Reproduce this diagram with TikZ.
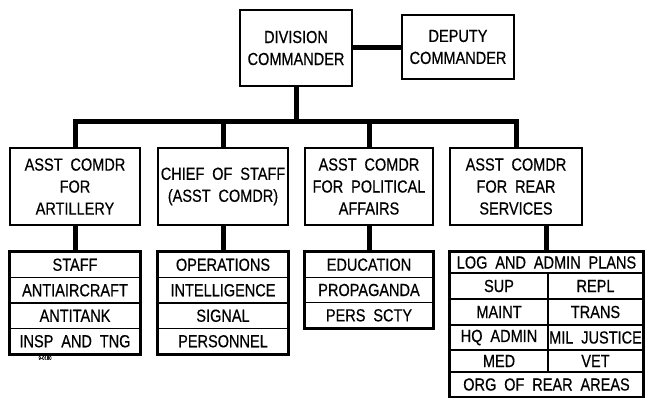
\documentclass[tikz,border=0pt]{standalone}
\usepackage{fontspec}
\setmainfont{Liberation Sans}[FakeStretch=0.83,FakeBold=0.5]
\newcommand{\mainf}{\fontsize{17.5}{22}\selectfont\spaceskip=0.45em plus 0.1em\relax}
\begin{document}
\begin{tikzpicture}[x=1pt,y=-1pt,
  box/.style={draw, line width=1.8pt, align=center, inner sep=0pt, font=\mainf},
  cell/.style={draw, line width=1.4pt, inner sep=0pt, font=\mainf},
  conn/.style={line width=5pt}]
\useasboundingbox (0,0) rectangle (645,398);
% top level
\node[box, minimum width=112pt, minimum height=76pt] (div) at (296,48) {DIVISION\\COMMANDER};
\node[box, minimum width=112pt, minimum height=64pt] (dep) at (458,47) {DEPUTY\\COMMANDER};
\draw[conn] (div.east) -- (div.east -| dep.west);
% second level
\node[box, minimum width=130pt, minimum height=77pt] (b1) at (75,186.5) {ASST COMDR\\FOR\\ARTILLERY};
\node[box, minimum width=130pt, minimum height=77pt] (b2) at (223,186.5) {CHIEF OF STAFF\\(ASST COMDR)};
\node[box, minimum width=128pt, minimum height=77pt] (b3) at (369,186.5) {ASST COMDR\\FOR POLITICAL\\AFFAIRS};
\node[box, minimum width=132pt, minimum height=77pt] (b4) at (516,186.5) {ASST COMDR\\FOR REAR\\SERVICES};
\coordinate (bar) at (0,122);
\draw[conn] (div.south) -- (div.south |- bar);
\draw[conn] (b1.north) -- (b1.north |- bar) -- (b4.north |- bar) -- (b4.north);
\draw[conn] (b2.north) -- (b2.north |- bar);
\draw[conn] (b3.north) -- (b3.north |- bar);
% list 1
\node[cell, minimum width=130pt, minimum height=25.5pt] (a1) at (75,264.75) {STAFF};
\node[cell, minimum width=130pt, minimum height=25.5pt] (a2) at (75,290.25) {ANTIAIRCRAFT};
\node[cell, minimum width=130pt, minimum height=25.5pt] (a3) at (75,315.75) {ANTITANK};
\node[cell, minimum width=130pt, minimum height=25.5pt] (a4) at (75,341.25) {INSP AND TNG};
\draw[line width=1.8pt] (a1.north west) rectangle (a4.south east);
% list 2
\node[cell, minimum width=130pt, minimum height=25.5pt] (c1) at (223,264.75) {OPERATIONS};
\node[cell, minimum width=130pt, minimum height=25.5pt] (c2) at (223,290.25) {INTELLIGENCE};
\node[cell, minimum width=130pt, minimum height=25.5pt] (c3) at (223,315.75) {SIGNAL};
\node[cell, minimum width=130pt, minimum height=25.5pt] (c4) at (223,341.25) {PERSONNEL};
\draw[line width=1.8pt] (c1.north west) rectangle (c4.south east);
% list 3
\node[cell, minimum width=128pt, minimum height=25.33pt] (d1) at (369,264.67) {EDUCATION};
\node[cell, minimum width=128pt, minimum height=25.33pt] (d2) at (369,290) {PROPAGANDA};
\node[cell, minimum width=128pt, minimum height=25.33pt] (d3) at (369,315.33) {PERS SCTY};
\draw[line width=1.8pt] (d1.north west) rectangle (d3.south east);
% list 4
\node[cell, minimum width=193pt, minimum height=21pt] (e0) at (546.5,262.5) {LOG AND ADMIN PLANS};
\node[cell, minimum width=98pt, minimum height=26pt] (e1l) at (499,286) {SUP};
\node[cell, minimum width=95pt, minimum height=26pt] (e1r) at (595.5,286) {REPL};
\node[cell, minimum width=98pt, minimum height=26pt] (e2l) at (499,312) {MAINT};
\node[cell, minimum width=95pt, minimum height=26pt] (e2r) at (595.5,312) {TRANS};
\node[cell, minimum width=98pt, minimum height=25pt] (e3l) at (499,337.5) {HQ ADMIN};
\node[cell, minimum width=95pt, minimum height=25pt] (e3r) at (595.5,337.5) {MIL JUSTICE};
\node[cell, minimum width=98pt, minimum height=22pt] (e4l) at (499,361) {MED};
\node[cell, minimum width=95pt, minimum height=22pt] (e4r) at (595.5,361) {VET};
\node[cell, minimum width=193pt, minimum height=25pt] (e5) at (546.5,384.5) {ORG OF REAR AREAS};
\draw[line width=1.8pt] (e0.north west) rectangle (e5.south east);
% list connectors
\draw[conn] (b1.south) -- (a1.north);
\draw[conn] (b2.south) -- (c1.north);
\draw[conn] (b3.south) -- (d1.north);
\draw[conn] (e0.north |- b4.south) -- (e0.north);
% code mark
\node[font=\fontsize{5}{5}\selectfont, inner sep=0pt] (code) at (45,358) {9-0180};
\end{tikzpicture}
\end{document}
